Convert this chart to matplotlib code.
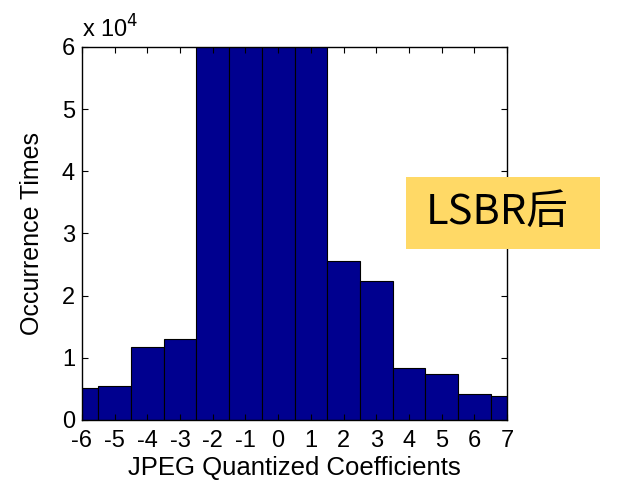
import matplotlib
matplotlib.use("Agg")
import matplotlib.pyplot as plt
from matplotlib.patches import Rectangle

coefficients = [-6, -5, -4, -3, -2, -1, 0, 1, 2, 3, 4, 5, 6, 7]
occurrences = [5100, 5400, 11800, 13000, 80000, 95000, 100000, 90000,
               25600, 22400, 8300, 7400, 4200, 3900]
x_ticks = list(range(-6, 8))
y_ticks = [0, 1e4, 2e4, 3e4, 4e4, 5e4, 6e4]
y_tick_labels = ["0", "1", "2", "3", "4", "5", "6"]

plt.rcParams['font.family'] = ['Liberation Sans', 'DejaVu Sans']

W, H = 623, 482
fig = plt.figure(figsize=(W/100, H/100), dpi=100)
ax = fig.add_axes([82/W, 1-420/H, (507-82)/W, (420-47)/H])

ax.bar(coefficients, occurrences, width=1.0, color='#00008F',
       edgecolor='black', linewidth=0.8)
ax.set_xlim(-6, 7)
ax.set_ylim(0, 6e4)
ax.set_xticks(x_ticks)
ax.set_xticklabels([str(v) for v in x_ticks], fontsize=17)
ax.set_yticks(y_ticks)
ax.set_yticklabels(y_tick_labels, fontsize=17)
ax.tick_params(direction='in', top=True, right=True, length=4, width=0.8)
ax.tick_params(axis='x', pad=7)
ax.tick_params(axis='y', pad=5)
for s in ax.spines.values():
    s.set_linewidth(1.0)

ax.set_xlabel("JPEG Quantized Coefficients", fontsize=18.5, labelpad=3)
ax.set_ylabel("Occurrence Times", fontsize=18, labelpad=13)

fig.text(82/W, 1-38/H, r"x 10$^{4}$", fontsize=17, ha='left',
         va='baseline')

fig.patches.append(Rectangle((406/W, 1-249/H), (600-406)/W, (249-177)/H,
                             transform=fig.transFigure, facecolor='#FFD966',
                             edgecolor='none', zorder=5))
fig.text(497/W, 1-212/H, "LSBR后", fontsize=30, ha='center',
         va='center', family=['Noto Sans CJK SC', 'DejaVu Sans'], zorder=6)

fig.savefig("out.png", dpi=100)
